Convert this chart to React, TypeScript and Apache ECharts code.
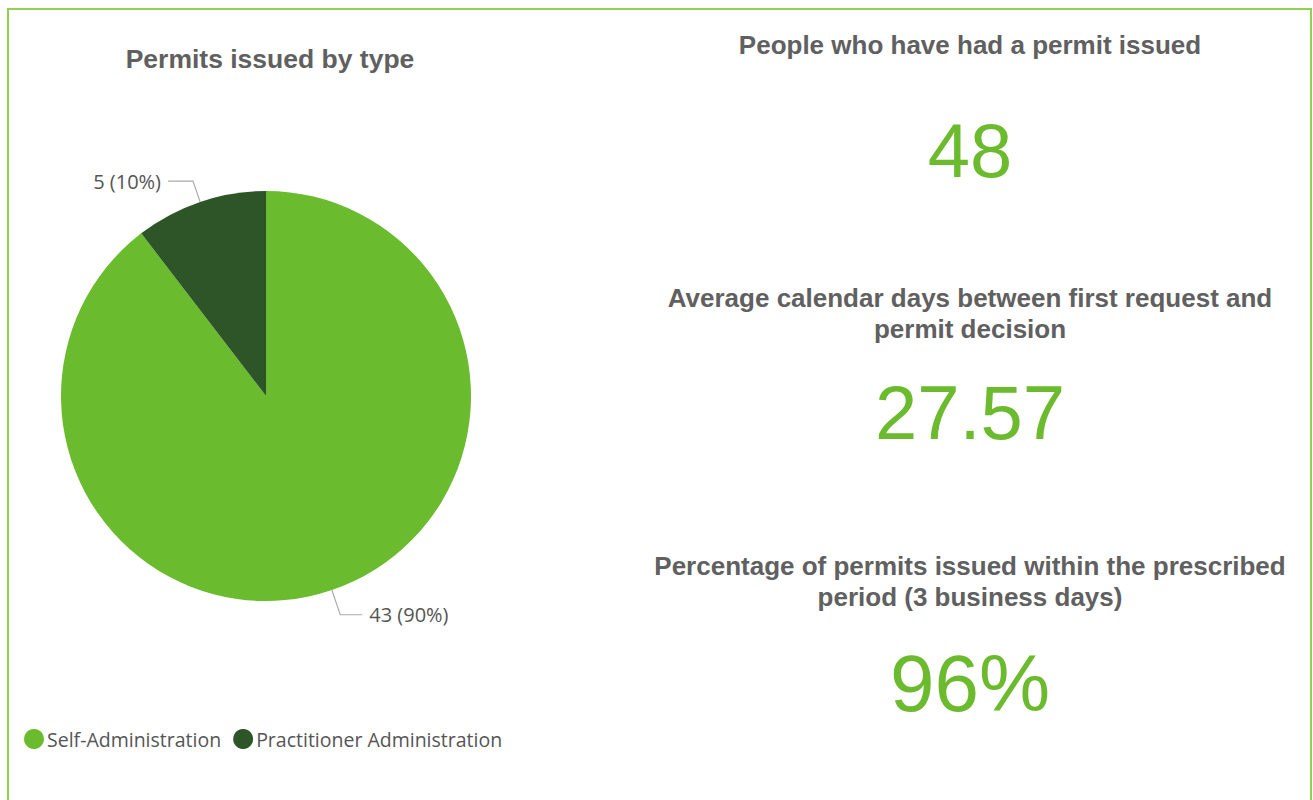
import React, { useEffect, useRef } from "react";
import * as echarts from "echarts";

const categories = ["Self-Administration", "Practitioner Administration"];
const permitCounts = [43, 5];
const sliceColors = ["#6BBB2F", "#2D5527"];

const kpiHeadings = [
  "People who have had a permit issued",
  "Average calendar days between first request and\npermit decision",
  "Percentage of permits issued within the prescribed\nperiod (3 business days)",
];
const kpiValues = ["48", "27.57", "96%"];

const pieTitle = "Permits issued by type";

export default function App() {
  const ref = useRef<HTMLDivElement>(null);
  useEffect(() => {
    if (!ref.current) return;
    const chart = echarts.init(ref.current, undefined, { renderer: "svg" });
    const headingFont = "'Liberation Sans', Arial, sans-serif";
    const bodyFont = "'Open Sans', 'Noto Sans', sans-serif";
    const headingY = [45, 298, 566];
    const valueY = [150, 412, 683];
    const valueSize = [76, 76, 80];
    const cx = 970;
    const labelLineLength = [26, 22];
    const labelLineLength2 = [22, 25];
    const graphics: any[] = [
      {
        type: "rect",
        shape: { x: 8, y: 9, width: 1303, height: 820 },
        style: { fill: "none", stroke: "#92D050", lineWidth: 2 },
        silent: true,
      },
    ];
    kpiHeadings.forEach((h, i) => {
      const multi = h.includes("\n");
      graphics.push({
        type: "text",
        x: cx,
        y: multi ? headingY[i] - 15.5 : headingY[i],
        style: {
          text: h,
          fill: "#606060",
          font: `bold 26px ${headingFont}`,
          align: "center",
          verticalAlign: multi ? "top" : "middle",
          lineHeight: 31,
        },
      });
    });
    kpiValues.forEach((v, i) => {
      graphics.push({
        type: "text",
        x: cx,
        y: valueY[i],
        style: {
          text: v,
          fill: "#6CBB2F",
          font: `${valueSize[i]}px ${headingFont}`,
          align: "center",
          verticalAlign: "middle",
        },
      });
    });

    chart.setOption({
      animation: false,
      title: {
        text: pieTitle,
        left: 265,
        top: 40,
        textAlign: "center",
        textStyle: {
          fontFamily: headingFont,
          fontWeight: "bold",
          fontSize: 26.5,
          color: "#606060",
        },
      },
      legend: {
        left: 19,
        top: 724,
        icon: "circle",
        itemWidth: 20,
        itemHeight: 20,
        itemGap: 12,
        data: categories,
        textStyle: { fontFamily: bodyFont, fontSize: 19.5, color: "#555555", padding: [0, 0, 0, -2] },
      },
      graphic: graphics,
      series: [
        {
          type: "pie",
          center: [266, 396],
          radius: 205,
          startAngle: 90,
          clockwise: true,
          percentPrecision: 0,
          avoidLabelOverlap: false,
          label: {
            show: true,
            formatter: "{c} ({d}%)",
            fontFamily: bodyFont,
            fontSize: 20,
            color: "#555555",
            distanceToLabelLine: 7,
          },
          labelLine: {
            show: true,
            length: 22,
            length2: 20,
            lineStyle: { color: "#aaaaaa", width: 1.2 },
          },
          emphasis: { disabled: true },
          itemStyle: { borderWidth: 0 },
          data: categories.map((c, i) => ({
            name: c,
            value: permitCounts[i],
            itemStyle: { color: sliceColors[i] },
            labelLine: { length: labelLineLength[i], length2: labelLineLength2[i] },
          })),
        },
      ],
    });
    return () => chart.dispose();
  }, []);
  return (
    <div
      ref={ref}
      style={{ position: "fixed", left: 0, top: 0, width: 1313, height: 800, background: "#fff" }}
    />
  );
}
